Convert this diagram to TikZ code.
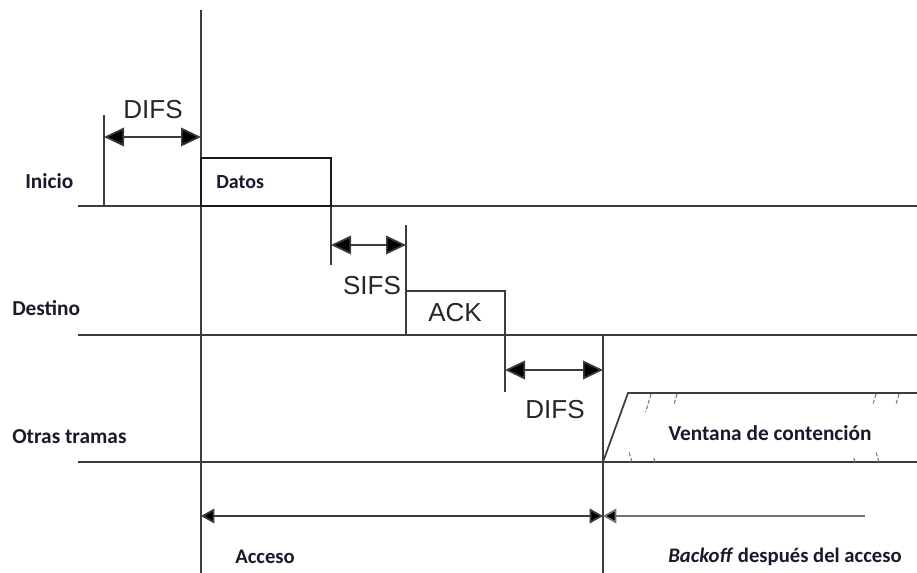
\documentclass[tikz,border=0pt]{standalone}
\usepackage{fontspec}
\setmainfont{Carlito}
\newfontfamily\arialf{Liberation Sans}
\usetikzlibrary{arrows.meta}
\definecolor{labelc}{RGB}{25,25,45}
\definecolor{linec}{RGB}{60,60,60}
\begin{document}
\begin{tikzpicture}[x=0.75pt,y=-0.75pt,
  ln/.style={draw=linec, line width=1.3pt},
  box/.style={draw=black!90, line width=1.5pt},
  lbl/.style={font=\fontsize{16}{19}\selectfont\bfseries, text=labelc, inner sep=0pt},
  ar/.style={font=\arialf\fontsize{19.5}{22}\selectfont, text=black!85, inner sep=0pt},
  dim/.style={ln, {Triangle[length=15pt,width=14pt,fill=black]}-{Triangle[length=15pt,width=14pt,fill=black]}},
  hatch/.style={draw=black!55, line width=0.8pt, dash pattern=on 3pt off 1.5pt}
]
\useasboundingbox (0,0) rectangle (917,573);
% coordinates
\coordinate (vtop) at (201,10);
\coordinate (vbot) at (201,573);
\coordinate (iniL) at (78,206); \coordinate (iniR) at (917,206);
\coordinate (desL) at (78,335); \coordinate (desR) at (917,335);
\coordinate (otrL) at (78,462); \coordinate (otrR) at (917,462);
\coordinate (d1t) at (104,115); \coordinate (d1b) at (104,206);
\coordinate (datA) at (201,158); \coordinate (datB) at (331,206);
\coordinate (s1t) at (331,206); \coordinate (s1b) at (331,265);
\coordinate (s2t) at (406,225); \coordinate (s2b) at (406,335);
\coordinate (ackA) at (406,291); \coordinate (ackB) at (505,335);
\coordinate (d2t) at (505,335); \coordinate (d2b) at (505,392);
\coordinate (v2t) at (603,335); \coordinate (v2b) at (603,573);
\coordinate (a1l) at (104,137); \coordinate (a1r) at (201,137);
\coordinate (a2l) at (331,245); \coordinate (a2r) at (406,245);
\coordinate (a3l) at (505,370); \coordinate (a3r) at (603,370);
\coordinate (b1l) at (201,516); \coordinate (b1r) at (603,516);
\coordinate (b2r) at (865,516);
\coordinate (cw0) at (603,462); \coordinate (cw1) at (628,393); \coordinate (cw2) at (917,393);

% base lines
\draw[ln] (iniL) -- (iniR);
\draw[ln] (desL) -- (desR);
\draw[ln] (otrL) -- (otrR);
\draw[ln] (vtop) -- (vbot);
\draw[ln] (v2t) -- (v2b);
\draw[ln] (d1t) -- (d1b);
\draw[ln] (s1t) -- (s1b);
\draw[ln] (s2t) -- (s2b);
\draw[ln] (d2t) -- (d2b);

% frames
\draw[box] (datA) rectangle (datB);
\draw[ln, line width=1.4pt] (ackA) rectangle (ackB);

% dimension arrows
\draw[dim] (a1l) -- (a1r);
\draw[dim] (a2l) -- (a2r);
\draw[dim] (a3l) -- (a3r);
\draw[ln, {Triangle[length=10pt,width=11pt,fill=black]}-{Triangle[length=10pt,width=11pt,fill=black]}] (b1l) -- (b1r);
\draw[ln, draw=black!55, {Triangle[length=10pt,width=11pt,fill=black]}-] (b1r) -- (b2r);

% contention window
\draw[ln] (cw0) -- (cw1) -- (cw2);
\foreach \x/\y/\l in {651/394/18, 677/394/10, 876/394/10, 899/394/10}
  \draw[hatch] (\x,\y) -- ++(-0.3*\l,\l);
\foreach \x/\y/\l in {632/462/10, 655/462/5, 855/462/5, 879/462/10}
  \draw[hatch] (\x,\y) -- ++(-0.3*\l,-\l);

% labels
\node[lbl, anchor=west] (inicio) at (25,181) {Inicio};
\node[lbl, anchor=west] (destino) at (12,308) {Destino};
\node[lbl, anchor=west] (otras) at (12,437) {Otras tramas};
\node[lbl, anchor=west, font=\fontsize{15}{18}\selectfont\bfseries] (datos) at (216,182) {Datos};
\node[ar] (difs1) at (153,110) {DIFS};
\node[ar] (sifs) at (372,286) {SIFS};
\node[ar] (ack) at (455,313) {ACK};
\node[ar] (difs2) at (555,410) {DIFS};
\node[lbl] (ventana) at (770,433) {Ventana de contención};
\node[lbl, anchor=west, font=\fontsize{15.5}{18}\selectfont\bfseries] (acceso) at (235,557) {Acceso};
\node[lbl, anchor=west, font=\fontsize{15.5}{18}\selectfont\bfseries] (backoff) at (668,557) {\textit{Backoff} después del acceso};
\end{tikzpicture}
\end{document}
